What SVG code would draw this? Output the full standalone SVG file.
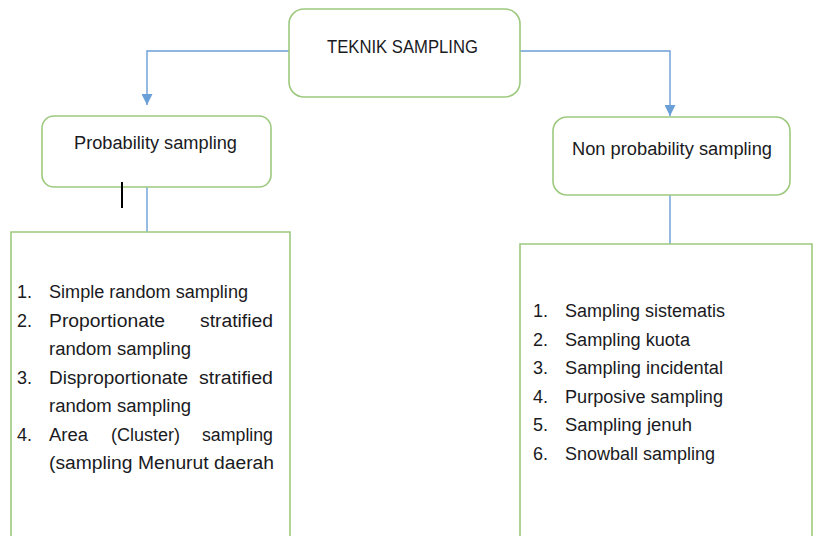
<svg xmlns="http://www.w3.org/2000/svg" width="814" height="536" viewBox="0 0 814 536">
<defs>
<style>
.box{fill:#fff;stroke:#9DC97E;stroke-width:1.6}
.con{fill:none;stroke:#6A9FD8;stroke-width:1.4}
text{font-family:"Liberation Sans",Arial,sans-serif;font-size:18px;fill:#1a1a22}
</style>
<marker id="arr" viewBox="0 0 10 10" refX="10" refY="5" markerWidth="11" markerHeight="11" markerUnits="userSpaceOnUse" orient="auto">
<path d="M0,0 L10,5 L0,10 z" fill="#6A9FD8"/>
</marker>
</defs>
<rect width="814" height="536" fill="#fff"/>
<g id="connectors">
<path class="con" d="M289,51 H147 V105" marker-end="url(#arr)"/>
<path class="con" d="M520,51 H670 V116" marker-end="url(#arr)"/>
<path class="con" d="M147,187 V232"/>
<path class="con" d="M670,195 V244"/>
</g>
<g id="teknik">
<rect class="box" x="289" y="9" width="231" height="88" rx="15"/>
<text x="327" y="53" textLength="151" lengthAdjust="spacingAndGlyphs">TEKNIK SAMPLING</text>
</g>
<g id="probability">
<rect class="box" x="42" y="116" width="229" height="71" rx="12"/>
<text x="74" y="149" textLength="163" lengthAdjust="spacingAndGlyphs">Probability sampling</text>
</g>
<g id="nonprobability">
<rect class="box" x="553" y="117" width="237" height="78" rx="14"/>
<text x="572" y="155" textLength="200" lengthAdjust="spacingAndGlyphs">Non probability sampling</text>
</g>
<g id="cursor">
<line x1="122" y1="182" x2="122" y2="208" stroke="#000" stroke-width="2"/>
</g>
<g id="probability-list">
<path class="box" d="M11,540 V232 H290 V540"/>
<text x="17" y="298">1.</text>
<text x="49" y="298" textLength="199" lengthAdjust="spacingAndGlyphs">Simple random sampling</text>
<text x="17" y="327">2.</text>
<text x="49" y="327" textLength="116" lengthAdjust="spacingAndGlyphs">Proportionate</text>
<text x="200" y="327" textLength="73" lengthAdjust="spacingAndGlyphs">stratified</text>
<text x="49" y="355" textLength="142" lengthAdjust="spacingAndGlyphs">random sampling</text>
<text x="17" y="384">3.</text>
<text x="49" y="384" textLength="139" lengthAdjust="spacingAndGlyphs">Disproportionate</text>
<text x="199" y="384" textLength="74" lengthAdjust="spacingAndGlyphs">stratified</text>
<text x="49" y="412" textLength="142" lengthAdjust="spacingAndGlyphs">random sampling</text>
<text x="17" y="441">4.</text>
<text x="49" y="441" textLength="39" lengthAdjust="spacingAndGlyphs">Area</text>
<text x="111" y="441" textLength="69" lengthAdjust="spacingAndGlyphs">(Cluster)</text>
<text x="202" y="441" textLength="71" lengthAdjust="spacingAndGlyphs">sampling</text>
<text x="49" y="469" textLength="225" lengthAdjust="spacingAndGlyphs">(sampling Menurut daerah</text>
</g>
<g id="nonprobability-list">
<path class="box" d="M520,540 V244 H812 V540"/>
<text x="533" y="317">1.</text>
<text x="565" y="317" textLength="160" lengthAdjust="spacingAndGlyphs">Sampling sistematis</text>
<text x="533" y="345.5">2.</text>
<text x="565" y="345.5" textLength="125" lengthAdjust="spacingAndGlyphs">Sampling kuota</text>
<text x="533" y="374">3.</text>
<text x="565" y="374" textLength="158" lengthAdjust="spacingAndGlyphs">Sampling incidental</text>
<text x="533" y="402.5">4.</text>
<text x="565" y="402.5" textLength="158" lengthAdjust="spacingAndGlyphs">Purposive sampling</text>
<text x="533" y="431">5.</text>
<text x="565" y="431" textLength="127" lengthAdjust="spacingAndGlyphs">Sampling jenuh</text>
<text x="533" y="459.5">6.</text>
<text x="565" y="459.5" textLength="150" lengthAdjust="spacingAndGlyphs">Snowball sampling</text>
</g>
</svg>
